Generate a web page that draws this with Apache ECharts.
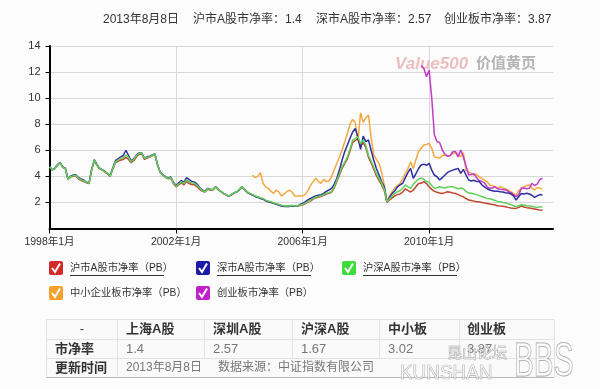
<!DOCTYPE html>
<html><head><meta charset="utf-8">
<script src="https://cdn.jsdelivr.net/npm/echarts@6/dist/echarts.min.js"></script>
<style>html,body{margin:0;padding:0;background:#fcfcfc}#c{width:600px;height:389px}</style>
</head><body><div id="c"></div>
<script>
// monthly categories 1998-01 .. 2013-12
const months = [];
for (let i = 0; i < 192; i++) { const y = 1998 + Math.floor(i / 12), m = i % 12 + 1; months.push(y + '-' + (m < 10 ? '0' : '') + m); }

const seriesNames = ['沪市A股市净率（PB）', '深市A股市净率（PB）', '沪深A股市净率（PB）', '中小企业板市净率（PB）', '创业板市净率（PB）'];
const seriesColors = ['#c0462e', '#2e2e9e', '#62d05a', '#f2aa40', '#c23cc8'];
const legendColors = ['#d42a2a', '#1c1ca8', '#3ddc3d', '#f2a028', '#c020c8'];

// 沪市A股 1998-01 .. 2013-08
const shA = [4.74,4.49,4.6,4.85,5.05,4.69,4.6,3.77,3.95,4.0,
4.05,3.8,3.7,3.6,3.5,3.45,4.5,5.2,4.85,4.58,
4.48,4.33,4.18,4.0,4.55,5.05,5.15,5.25,5.3,5.45,
5.3,5.05,5.2,5.5,5.7,5.72,5.3,5.4,5.48,5.58,
5.65,4.85,4.28,4.08,3.92,3.82,3.85,3.45,3.2,3.35,
3.5,3.35,3.6,3.45,3.38,3.35,3.2,3.0,2.85,2.8,
3.0,2.95,2.95,3.18,2.98,2.83,2.68,2.58,2.47,2.58,
2.73,2.8,2.98,3.18,2.98,2.78,2.67,2.58,2.48,2.42,
2.33,2.28,2.16,2.08,2.02,1.95,1.88,1.82,1.75,1.7,
1.72,1.7,1.75,1.7,1.7,1.77,1.82,1.92,2.02,2.1,
2.25,2.35,2.4,2.45,2.55,2.65,2.7,2.78,3.1,3.6,
4.1,4.6,5.0,5.35,5.95,6.6,6.75,6.9,6.3,6.6,
6.2,5.45,5.05,4.55,4.05,3.7,3.35,2.9,2.0,2.2,
2.35,2.5,2.6,2.65,2.8,3.05,2.9,2.8,2.95,3.2,
3.45,3.47,3.6,3.45,3.21,3.0,2.85,2.78,2.72,2.69,
2.75,2.82,2.78,2.72,2.69,2.6,2.5,2.43,2.3,2.18,
2.15,2.1,2.05,2.05,2.0,1.95,1.92,1.88,1.85,1.8,
1.75,1.72,1.7,1.67,1.62,1.58,1.55,1.54,1.62,1.73,
1.65,1.6,1.57,1.54,1.5,1.45,1.42,1.4];

// 深市A股
const szA = [4.75,4.5,4.62,4.88,5.08,4.72,4.62,3.8,4.02,4.1,
4.12,3.9,3.8,3.72,3.55,3.5,4.55,5.28,4.9,4.62,
4.52,4.38,4.22,4.05,4.65,5.2,5.35,5.5,5.6,6.0,
5.6,5.2,5.35,5.65,5.8,5.8,5.4,5.5,5.55,5.65,
5.72,4.9,4.32,4.12,3.98,3.88,3.95,3.55,3.3,3.5,
3.68,3.55,3.9,3.75,3.6,3.55,3.4,3.15,2.95,2.85,
3.08,3.02,3.0,3.22,3.0,2.85,2.7,2.6,2.48,2.58,
2.73,2.8,2.98,3.2,2.98,2.78,2.66,2.56,2.46,2.4,
2.3,2.25,2.12,2.05,2.0,1.93,1.85,1.8,1.72,1.68,
1.7,1.68,1.74,1.7,1.72,1.85,1.93,2.05,2.2,2.3,
2.4,2.5,2.55,2.6,2.7,2.85,2.95,3.08,3.4,3.85,
4.5,5.25,5.9,6.4,6.92,7.4,7.68,7.0,6.07,7.09,
6.66,6.79,6.0,5.25,4.6,4.1,3.6,3.2,2.06,2.4,
2.69,2.9,3.2,3.35,3.47,3.9,4.3,4.61,3.85,4.2,
4.6,4.87,4.94,4.85,5.0,4.48,4.1,3.97,3.72,3.9,
4.1,4.3,4.4,4.48,4.55,4.61,4.23,4.54,4.1,3.72,
3.65,3.7,3.6,3.6,3.35,3.2,3.05,2.95,2.9,2.85,
2.85,2.82,2.8,2.75,2.72,2.65,2.5,2.18,2.45,2.69,
2.65,2.7,2.65,2.55,2.39,2.5,2.6,2.57];

// 沪深A股
const hsA = [4.74,4.49,4.6,4.85,5.05,4.69,4.6,3.77,3.98,4.05,
4.08,3.85,3.75,3.67,3.52,3.47,4.5,5.25,4.87,4.6,
4.5,4.35,4.2,4.03,4.6,5.12,5.25,5.38,5.45,5.64,
5.45,5.12,5.3,5.6,5.77,5.77,5.38,5.45,5.51,5.6,
5.69,4.87,4.3,4.1,3.95,3.85,3.9,3.5,3.25,3.4,
3.59,3.45,3.74,3.6,3.5,3.47,3.3,3.1,2.9,2.82,
3.05,3.0,2.97,3.21,3.0,2.85,2.7,2.6,2.49,2.6,
2.75,2.82,3.0,3.21,3.0,2.8,2.69,2.6,2.5,2.44,
2.35,2.3,2.18,2.1,2.05,1.98,1.9,1.85,1.78,1.73,
1.75,1.72,1.78,1.73,1.73,1.8,1.85,1.95,2.06,2.15,
2.3,2.4,2.45,2.5,2.6,2.7,2.75,2.82,3.2,3.7,
4.2,4.74,5.1,5.5,6.1,6.79,6.9,7.04,6.5,6.79,
6.4,5.6,5.2,4.7,4.2,3.85,3.5,3.0,2.06,2.3,
2.5,2.7,2.82,2.9,3.1,3.34,3.2,3.08,3.4,3.6,
3.8,3.85,3.78,3.6,3.55,3.3,3.08,3.12,3.2,3.15,
3.1,3.18,3.21,3.21,3.12,3.05,3.1,3.05,2.85,2.72,
2.7,2.65,2.6,2.52,2.45,2.38,2.31,2.28,2.22,2.15,
2.08,2.05,2.0,1.95,1.9,1.82,1.75,1.67,1.75,1.82,
1.8,1.75,1.72,1.7,1.65,1.62,1.65,1.67];

// 中小企业板 from 2004-06
const smeStart = '2004-06';
const sme = [4.1,3.9,4.0,4.28,3.47,3.2,3.08,2.85,2.69,2.95,
2.8,2.49,2.65,2.82,2.95,2.8,2.49,2.5,2.49,2.5,
2.6,2.9,3.3,3.6,3.85,3.6,3.47,3.77,3.6,3.65,
3.97,4.5,5.0,5.5,6.02,6.66,7.3,8.0,8.37,8.14,
6.66,8.88,8.14,8.5,8.7,7.0,5.64,5.3,4.98,4.3,
3.3,2.06,2.5,2.82,3.1,3.3,3.47,3.8,4.23,4.6,
5.12,4.6,5.3,5.9,6.15,6.41,6.45,6.53,6.15,5.51,
5.45,5.4,5.6,5.64,5.55,5.6,5.75,5.8,5.7,5.5,
5.81,4.48,4.35,4.23,4.1,4.15,3.95,3.85,3.7,3.6,
3.34,3.3,3.2,3.1,3.2,3.1,3.05,2.95,2.82,2.7,
2.56,2.9,3.1,3.2,3.3,3.34,3.1,2.95,3.15,3.1,3.02];

// 创业板 from 2009-10
const gemStart = '2009-10';
const gem = [12.5,12.3,11.64,12.15,10.0,7.2,6.66,6.6,6.02,5.7,
5.55,5.6,5.89,5.9,5.5,6.02,5.51,4.8,4.1,4.15,
4.2,3.9,3.67,3.6,3.5,3.2,3.08,3.1,3.2,3.05,
3.0,3.0,2.95,2.85,2.75,2.6,2.45,2.6,3.08,3.1,
3.05,3.08,3.47,3.3,3.4,3.75,3.87];

// header / table texts
const headerParts = ['2013年8月8日', '沪市A股市净率：1.4', '深市A股市净率：2.57', '创业板市净率：3.87'];
const tableHead = ['-', '上海A股', '深圳A股', '沪深A股', '中小板', '创业板'];
const tablePB = ['市净率', '1.4', '2.57', '1.67', '3.02', '3.87'];
const tableUpdate = ['更新时间', '2013年8月8日', '数据来源：中证指数有限公司'];

function pad(start, vals) {
  const idx = months.indexOf(start);
  return new Array(idx).fill(null).concat(vals);
}
const seriesData = [shA, szA, hsA, pad(smeStart, sme), pad(gemStart, gem)];

const FONT = "'Liberation Sans','Noto Sans CJK SC',sans-serif";
const every48 = (i) => i % 48 === 0;

const g = [];
// title parts
const titleX = [103, 193, 316, 444];
headerParts.forEach((t, i) => g.push({type:'text', x:titleX[i], y:20, style:{text:t, font:'12px ' + FONT, fill:'#333', verticalAlign:'middle'}}));

// watermark in plot
g.push({type:'text', x:395, y:64, z:0, style:{text:'Value500', font:'italic bold 17px ' + FONT, fill:'rgba(220,140,140,0.55)', verticalAlign:'middle'}});
g.push({type:'text', x:476, y:64, z:0, style:{text:'价值黄页', font:'bold 15px ' + FONT, fill:'rgba(150,150,150,0.7)', verticalAlign:'middle'}});

// legend
const legPos = [[49,268],[196,268],[342,268],[49,293],[196,293]];
seriesNames.forEach((n, i) => {
  const [x, y] = legPos[i];
  g.push({type:'rect', shape:{x:x, y:y-7, width:14, height:14, r:2}, style:{fill:legendColors[i]}});
  g.push({type:'polyline', shape:{points:[[x+3,y],[x+6,y+4],[x+11,y-4.5]]}, style:{stroke:'#fff', lineWidth:2, fill:null}});
  g.push({type:'text', x:x+21, y:y, style:{text:n, font:'10.3px ' + FONT, fill:'#333', verticalAlign:'middle'}});
  if (i < 3) g.push({type:'line', shape:{x1:x+21, y1:y+7.5, x2:x+115, y2:y+7.5}, style:{stroke:'#333', lineWidth:1}});
});

// table
const colX = [46, 117, 204, 292, 379, 459, 554];
const rowY = [319.5, 339.5, 358.5, 377.5];
g.push({type:'rect', shape:{x:46, y:319.5, width:508, height:58}, style:{fill:'#fafafa', stroke:null}});
rowY.forEach((y, i) => g.push({type:'line', shape:{x1:46, y1:y, x2:554, y2:y}, style:{stroke: i === 3 ? '#b8b8b8' : '#e2e2e2', lineWidth:1}}));
colX.forEach((x, i) => g.push({type:'line', shape:{x1:x+0.5, y1:319.5, x2:x+0.5, y2: i===0||i===6 ? 377.5 : 358.5}, style:{stroke:'#e2e2e2', lineWidth:1}}));
g.push({type:'line', shape:{x1:117.5, y1:358.5, x2:117.5, y2:377.5}, style:{stroke:'#e2e2e2', lineWidth:1}});
const cellX = [82, 126, 213, 301, 388, 467];
tableHead.forEach((t, i) => g.push({type:'text', x:cellX[i], y:329.5, style:{text:t, font:(i===0?'':'bold ') + '13px ' + FONT, fill:'#333', align: i===0?'center':'left', verticalAlign:'middle'}}));
tablePB.forEach((t, i) => g.push({type:'text', x: i===0 ? 55 : cellX[i], y:349, style:{text:t, font:(i===0?'bold ':'') + '13px ' + FONT, fill: i===0 ? '#333' : '#777', verticalAlign:'middle'}}));
g.push({type:'text', x:55, y:368, style:{text:tableUpdate[0], font:'bold 13px ' + FONT, fill:'#333', verticalAlign:'middle'}});
g.push({type:'text', x:126, y:368, style:{text:tableUpdate[1], font:'12px ' + FONT, fill:'#777', verticalAlign:'middle'}});
g.push({type:'text', x:218, y:368, style:{text:tableUpdate[2], font:'12px ' + FONT, fill:'#777', verticalAlign:'middle'}});

// photo watermark
g.push({type:'text', x:447, y:354, style:{text:'昆山论坛', font:'15px ' + FONT, fill:'rgba(255,255,255,0.5)', stroke:'#a0a0a0', lineWidth:0.7, verticalAlign:'middle'}});
g.push({type:'text', x:400, y:373, scaleX:0.9, style:{text:'KUNSHAN', font:'21px ' + FONT, fill:'rgba(255,255,255,0.5)', stroke:'#a0a0a0', lineWidth:0.7, verticalAlign:'middle'}});
g.push({type:'text', x:514, y:363, scaleX:0.62, style:{text:'BBS', font:'48px ' + FONT, fill:'rgba(255,255,255,0.4)', stroke:'#a0a0a0', lineWidth:1, verticalAlign:'middle'}});

const chart = echarts.init(document.getElementById('c'), null, {renderer:'canvas'});
const order = [3, 4, 0, 1, 2];
chart.setOption({
  animation: false,
  backgroundColor: '#fcfcfc',
  textStyle: {fontFamily: FONT},
  grid: {left: 49.5, right: 47, top: 46, bottom: 160.5},
  xAxis: {
    type: 'category', data: months, boundaryGap: false,
    axisLine: {lineStyle: {color: '#000', width: 2}},
    axisTick: {interval: every48, length: 5, lineStyle: {color: '#000'}},
    axisLabel: {interval: every48, color: '#333', fontSize: 10.5, margin: 8,
      formatter: (v) => { const p = v.split('-'); return p[0] + '年' + parseInt(p[1]) + '月'; }},
    splitLine: {show: true, interval: every48, lineStyle: {color: '#d8d8d8'}}
  },
  yAxis: {
    type: 'value', min: 0, max: 14, interval: 2,
    axisLine: {show: true, lineStyle: {color: '#000', width: 2}},
    axisTick: {show: true, length: 4, lineStyle: {color: '#000'}},
    axisLabel: {color: '#333', fontSize: 11, margin: 9, showMinLabel: false},
    splitLine: {lineStyle: {color: '#d8d8d8'}}
  },
  series: order.map(i => ({
    name: seriesNames[i], type: 'line', data: seriesData[i], showSymbol: false,
    connectNulls: false, lineStyle: {width: 1.5, color: seriesColors[i]}, itemStyle: {color: seriesColors[i]}, z: 3
  })),
  graphic: g
});
</script></body></html>
